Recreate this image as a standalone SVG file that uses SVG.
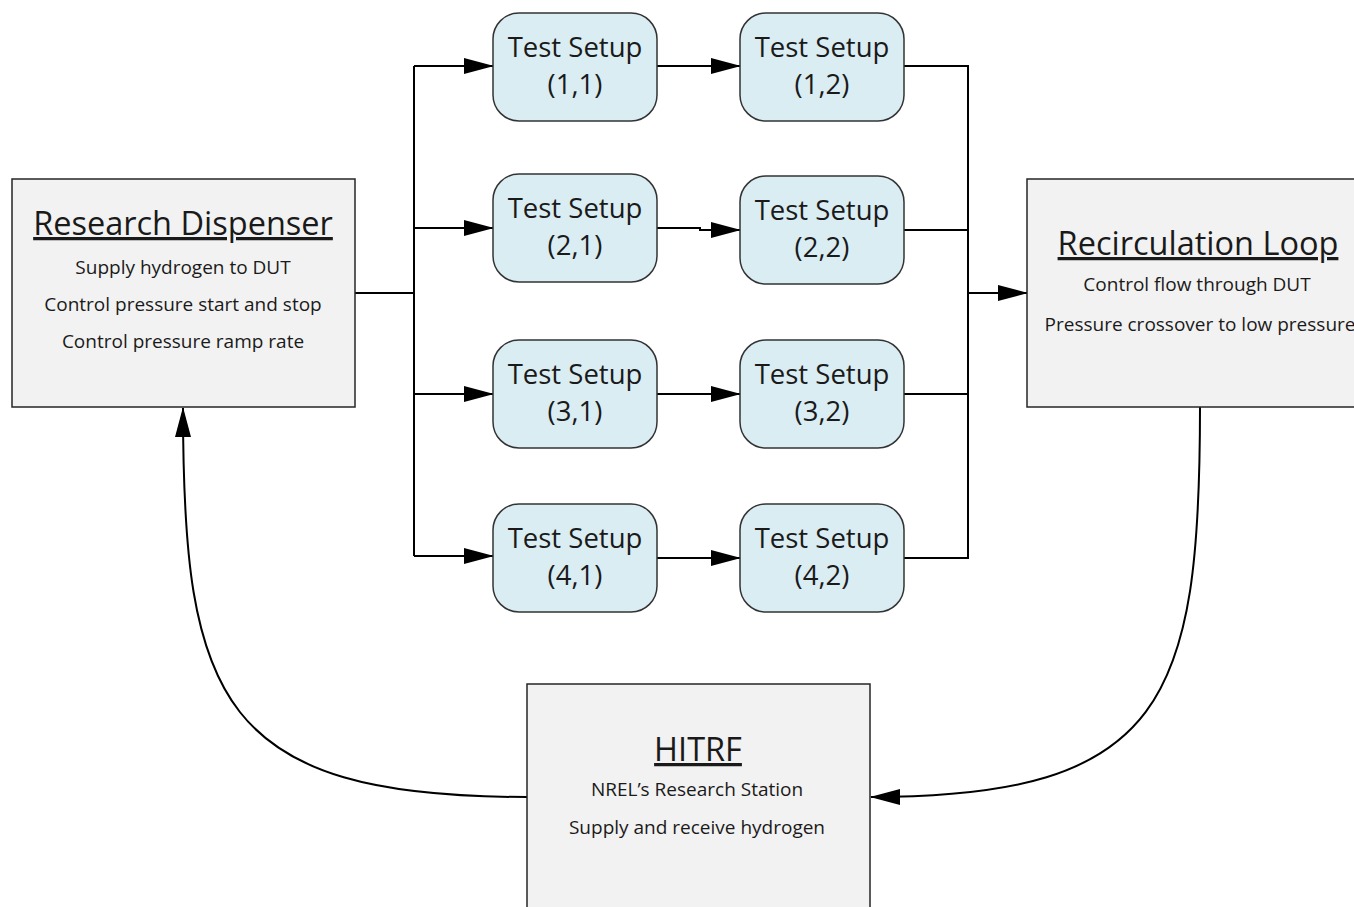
<svg xmlns="http://www.w3.org/2000/svg" width="1354" height="907" viewBox="0 0 1354 907">
<style>
.box{fill:#f2f2f2;stroke:#262626;stroke-width:1.5}
.ts{fill:#daedf3;stroke:#333;stroke-width:1.5}
.title{font-family:"Open Sans","Liberation Sans",sans-serif;font-size:32.5px;fill:#1a1a1a;text-anchor:middle;text-decoration:underline}
.sub{font-family:"Open Sans","Liberation Sans",sans-serif;font-size:19px;fill:#1a1a1a;text-anchor:middle}
.tst{font-family:"Open Sans","Liberation Sans",sans-serif;font-size:27.5px;fill:#1a1a1a;text-anchor:middle}
.c{fill:none;stroke:#000;stroke-width:2}
</style>
<defs>
<marker id="ah" markerUnits="userSpaceOnUse" markerWidth="30" markerHeight="18" refX="29" refY="8" orient="auto">
<path d="M0,0 L30,8 L0,16 z" fill="#000"/>
</marker>
</defs>
<rect width="1354" height="907" fill="#fff"/>
<g id="connectors">
<path class="c" d="M355,293 H414"/>
<path class="c" d="M414,66 V556"/>
<path class="c" d="M414,66 H493" marker-end="url(#ah)"/>
<path class="c" d="M414,228 H493" marker-end="url(#ah)"/>
<path class="c" d="M414,394 H493" marker-end="url(#ah)"/>
<path class="c" d="M414,556 H493" marker-end="url(#ah)"/>
<path class="c" d="M657,66 H740" marker-end="url(#ah)"/>
<path class="c" d="M657,228 H700 V230 H740" marker-end="url(#ah)"/>
<path class="c" d="M657,394 H740" marker-end="url(#ah)"/>
<path class="c" d="M657,558 H740" marker-end="url(#ah)"/>
<path class="c" d="M904,66 H968 V558 H904"/>
<path class="c" d="M904,230 H968"/>
<path class="c" d="M904,394 H968"/>
<path class="c" d="M968,293 H1027" marker-end="url(#ah)"/>
<path class="c" d="M1200,407 C1200,700 1165,797 871,797" marker-end="url(#ah)"/>
<path class="c" d="M527,797 C220,797 183,700 183,408" marker-end="url(#ah)"/>
</g>
<g id="research-dispenser">
<rect class="box" x="12" y="179" width="343" height="228"/>
<text class="title" x="183" y="235">Research Dispenser</text>
<text class="sub" x="183" y="274">Supply hydrogen to DUT</text>
<text class="sub" x="183" y="311">Control pressure start and stop</text>
<text class="sub" x="183" y="348">Control pressure ramp rate</text>
</g>
<g id="recirculation-loop">
<rect class="box" x="1027" y="179" width="340" height="228"/>
<text class="title" x="1198" y="255">Recirculation Loop</text>
<text class="sub" x="1197" y="291">Control flow through DUT</text>
<text class="sub" x="1200" y="331">Pressure crossover to low pressure</text>
</g>
<g id="hitrf">
<rect class="box" x="527" y="684" width="343" height="240"/>
<text class="title" x="698" y="761">HITRF</text>
<text class="sub" x="697" y="796">NREL’s Research Station</text>
<text class="sub" x="697" y="834">Supply and receive hydrogen</text>
</g>
<g id="ts-1-1"><rect class="ts" x="493" y="13" width="164" height="108" rx="26"/><text class="tst" x="575" y="57">Test Setup</text><text class="tst" x="575" y="94">(1,1)</text></g>
<g id="ts-1-2"><rect class="ts" x="740" y="13" width="164" height="108" rx="26"/><text class="tst" x="822" y="57">Test Setup</text><text class="tst" x="822" y="94">(1,2)</text></g>
<g id="ts-2-1"><rect class="ts" x="493" y="174" width="164" height="108" rx="26"/><text class="tst" x="575" y="218">Test Setup</text><text class="tst" x="575" y="255">(2,1)</text></g>
<g id="ts-2-2"><rect class="ts" x="740" y="176" width="164" height="108" rx="26"/><text class="tst" x="822" y="220">Test Setup</text><text class="tst" x="822" y="257">(2,2)</text></g>
<g id="ts-3-1"><rect class="ts" x="493" y="340" width="164" height="108" rx="26"/><text class="tst" x="575" y="384">Test Setup</text><text class="tst" x="575" y="421">(3,1)</text></g>
<g id="ts-3-2"><rect class="ts" x="740" y="340" width="164" height="108" rx="26"/><text class="tst" x="822" y="384">Test Setup</text><text class="tst" x="822" y="421">(3,2)</text></g>
<g id="ts-4-1"><rect class="ts" x="493" y="504" width="164" height="108" rx="26"/><text class="tst" x="575" y="548">Test Setup</text><text class="tst" x="575" y="585">(4,1)</text></g>
<g id="ts-4-2"><rect class="ts" x="740" y="504" width="164" height="108" rx="26"/><text class="tst" x="822" y="548">Test Setup</text><text class="tst" x="822" y="585">(4,2)</text></g>
</svg>
